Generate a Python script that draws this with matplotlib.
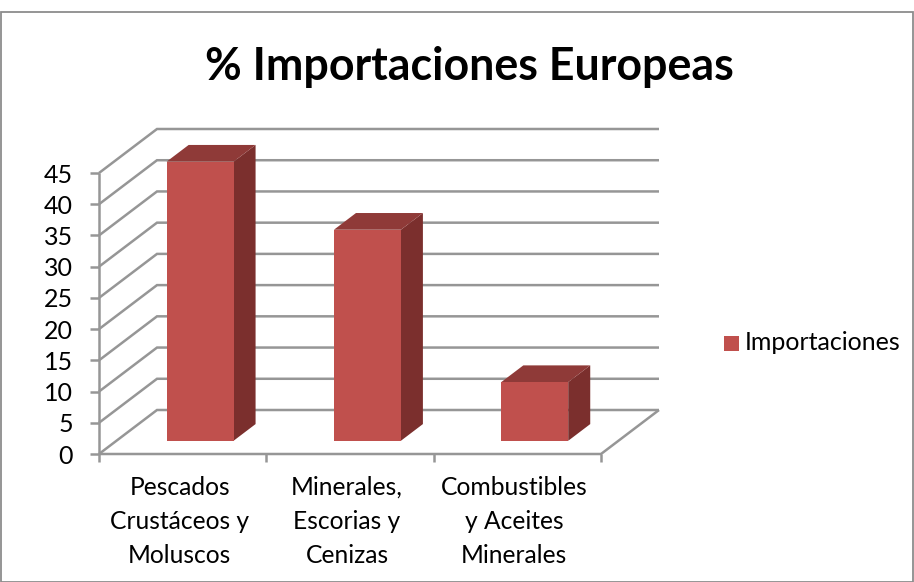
import matplotlib
matplotlib.use("Agg")
import matplotlib.pyplot as plt
from matplotlib.patches import Polygon, Rectangle
from matplotlib.lines import Line2D

# DATA
TITLE = "% Importaciones Europeas"
CATEGORIES = ["Pescados\nCrustáceos y\nMoluscos", "Minerales,\nEscorias y\nCenizas", "Combustibles\ny Aceites\nMinerales"]
VALUES = [44.7, 33.8, 9.4]
Y_TICKS = list(range(0, 50, 5))
SERIES_NAME = "Importaciones"

# STYLE
W, H = 914, 582
FONT = "Lato"
BAR_FRONT = "#c0504d"
BAR_TOP = "#8f3a38"
BAR_SIDE = "#7b2f2d"
GRID = "#969696"
FRAME = "#8c8c8c"

# front plane in pixels, depth offset in pixels
LEFT, RIGHT, BOTTOM, TOP = 99, 601, 454, 173
DEPTH_X, DEPTH_Y = 58, 44
BAR_W_FRAC = 0.40   # bar width, fraction of a category
BAR_LIFT = 0.30     # where the bar front sits in the depth
BAR_DEPTH = 0.38    # how deep the bar is

plt.rcParams["font.family"] = [FONT, "DejaVu Sans"]

fig = plt.figure(figsize=(W / 100, H / 100), dpi=100, facecolor="white")
ax = fig.add_axes([LEFT / W, 1 - BOTTOM / H, (RIGHT - LEFT) / W, (BOTTOM - TOP) / H])
ax.set_xlim(0, len(CATEGORIES))
ax.set_ylim(Y_TICKS[0], Y_TICKS[-1])
ax.patch.set_visible(False)
for s in ax.spines.values():
    s.set_visible(False)

# depth offset in data units
dx = DEPTH_X / ((RIGHT - LEFT) / len(CATEGORIES))
dy = DEPTH_Y / ((BOTTOM - TOP) / Y_TICKS[-1])


def line(xs, ys, z=1):
    ax.add_line(Line2D(xs, ys, color=GRID, lw=1.8, zorder=z, clip_on=False,
                       solid_capstyle="butt", solid_joinstyle="miter"))


n = len(CATEGORIES)
# walls: gridlines go along the side wall then the back wall
for t in Y_TICKS:
    line([0, dx, n + dx], [t, t + dy, t + dy])
# floor
line([0, n, n + dx], [0, 0, dy])
# front axes
line([0, 0], [0, Y_TICKS[-1]], 2)
for t in Y_TICKS:
    line([-9 / ((RIGHT - LEFT) / n), 0], [t, t], 2)
px_y = (BOTTOM - TOP) / Y_TICKS[-1]
for i in range(n + 1):
    line([i, i], [0, -8 / px_y], 2)

# bars
for i, v in enumerate(VALUES):
    x0 = i + (1 - BAR_W_FRAC) / 2 + BAR_LIFT * dx
    x1 = x0 + BAR_W_FRAC
    y0 = BAR_LIFT * dy
    y1 = y0 + v
    ox, oy = BAR_DEPTH * dx, BAR_DEPTH * dy
    ax.add_patch(Polygon([(x1, y0), (x1 + ox, y0 + oy), (x1 + ox, y1 + oy), (x1, y1)],
                         fc=BAR_SIDE, ec="none", zorder=3, clip_on=False))
    ax.add_patch(Polygon([(x0, y1), (x1, y1), (x1 + ox, y1 + oy), (x0 + ox, y1 + oy)],
                         fc=BAR_TOP, ec="none", zorder=3, clip_on=False))
    ax.add_patch(Rectangle((x0, y0), BAR_W_FRAC, v, fc=BAR_FRONT, ec="none",
                           zorder=4, clip_on=False))

# tick labels
ax.set_xticks([])
ax.set_yticks([])
for t in Y_TICKS:
    ax.annotate(str(t), (0, t), xytext=(-26, -2), textcoords="offset pixels",
                ha="right", va="center", fontsize=18, color="black")
for i, c in enumerate(CATEGORIES):
    ax.annotate(c, (i + 0.5, 0), xytext=(-3, -22), textcoords="offset pixels",
                ha="center", va="top", fontsize=17.7, color="black", linespacing=1.59)

# chart frame, title, legend
fig.add_artist(Rectangle((0.5 / W, 0.5 / H), (W - 1.5) / W, (H - 12) / H, transform=fig.transFigure,
                         fc="none", ec=FRAME, lw=1.3))
fig.text(469 / W, 1 - 67 / H, TITLE, ha="center", va="center", fontsize=32.2,
         fontweight="bold", color="black")
fig.add_artist(Rectangle((724 / W, 1 - 351 / H), 15 / W, 15 / H, transform=fig.transFigure,
                         fc=BAR_FRONT, ec="none"))
fig.text(745 / W, 1 - 342 / H, SERIES_NAME, ha="left", va="center", fontsize=18, color="black")

fig.savefig("out.png", dpi=100, facecolor="white")
